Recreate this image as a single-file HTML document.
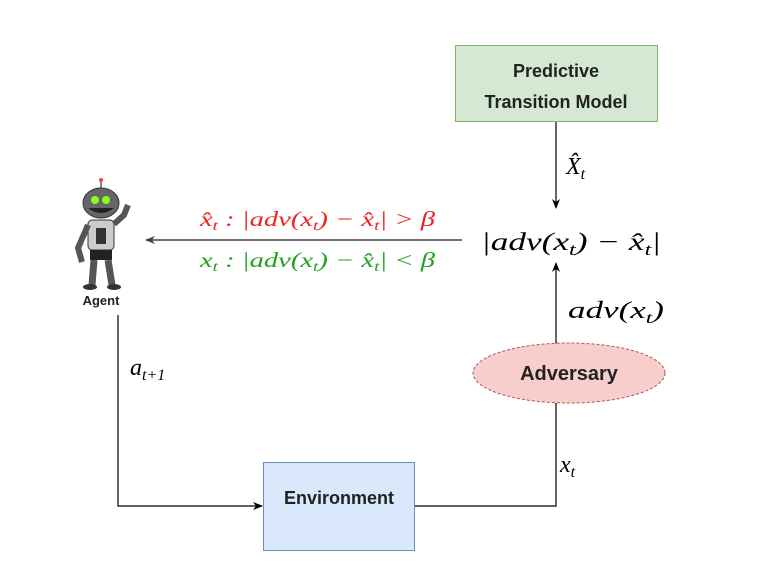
<!DOCTYPE html>
<html><head><meta charset="utf-8"><style>
body{margin:0;background:#fff;width:776px;height:582px;overflow:hidden}
svg{display:block}
.m{font-family:"Liberation Serif",serif;font-style:italic}
.b{font-family:"Liberation Sans",sans-serif;font-weight:bold}
</style></head><body>
<svg width="776" height="582" viewBox="0 0 776 582">
<defs><marker id="ar" markerWidth="10" markerHeight="8" refX="9" refY="4" orient="auto" markerUnits="userSpaceOnUse"><path d="M0,0 L10,4 L0,8 L3,4 Z" fill="#000"/></marker>
<marker id="ag" markerWidth="10" markerHeight="8" refX="9" refY="4" orient="auto" markerUnits="userSpaceOnUse"><path d="M0,0 L10,4 L0,8 L3,4 Z" fill="#444"/></marker></defs>

<g>
<rect x="455.5" y="45.5" width="202" height="76" fill="#d5e8d4" stroke="#82b366"/>
<text x="556" y="77" text-anchor="middle" class="b" font-size="18" fill="#222">Predictive</text>
<text x="556" y="108" text-anchor="middle" class="b" font-size="18" fill="#222">Transition Model</text>
</g>
<line x1="556" y1="122" x2="556" y2="208" stroke="#000" stroke-width="1.2" marker-end="url(#ar)"/>
<text x="566" y="174" class="m" font-size="24">X̂<tspan font-size="16" dy="5">t</tspan></text>

<text x="481" y="250" class="m" font-size="25" textLength="180" lengthAdjust="spacingAndGlyphs">|adv(x<tspan font-size="17" dy="5">t</tspan><tspan dy="-5">) − x̂</tspan><tspan font-size="17" dy="5">t</tspan><tspan dy="-5">|</tspan></text>

<line x1="462" y1="240" x2="146" y2="240" stroke="#444" stroke-width="1.5" marker-end="url(#ag)"/>
<text x="200" y="226" class="m" font-size="21" fill="#ee2222" textLength="235" lengthAdjust="spacingAndGlyphs">x̂<tspan font-size="14" dy="4">t</tspan><tspan dy="-4"> : |adv(x</tspan><tspan font-size="14" dy="4">t</tspan><tspan dy="-4">) − x̂</tspan><tspan font-size="14" dy="4">t</tspan><tspan dy="-4">| &gt; β</tspan></text>
<text x="200" y="267" class="m" font-size="21" fill="#22a022" textLength="235" lengthAdjust="spacingAndGlyphs">x<tspan font-size="14" dy="4">t</tspan><tspan dy="-4"> : |adv(x</tspan><tspan font-size="14" dy="4">t</tspan><tspan dy="-4">) − x̂</tspan><tspan font-size="14" dy="4">t</tspan><tspan dy="-4">| &lt; β</tspan></text>

<line x1="556" y1="344" x2="556" y2="263" stroke="#000" stroke-width="1.2" marker-end="url(#ar)"/>
<text x="568" y="318" class="m" font-size="24" textLength="96" lengthAdjust="spacingAndGlyphs">adv(x<tspan font-size="16" dy="5">t</tspan><tspan dy="-5">)</tspan></text>

<g>
<ellipse cx="569" cy="373" rx="96" ry="30" fill="#f8cecc" stroke="#b85450" stroke-dasharray="3,2"/>
<text x="569" y="380" text-anchor="middle" class="b" font-size="20" fill="#222">Adversary</text>
</g>
<polyline points="556,403 556,506 415,506" fill="none" stroke="#000" stroke-width="1.2"/>
<text x="560" y="472" class="m" font-size="24">x<tspan font-size="16" dy="5">t</tspan></text>

<g>
<rect x="263.5" y="462.5" width="151" height="88" fill="#dae8fc" stroke="#6c8ebf"/>
<text x="339" y="504" text-anchor="middle" class="b" font-size="18" fill="#222">Environment</text>
</g>
<polyline points="118,315 118,506 262,506" fill="none" stroke="#000" stroke-width="1.2" marker-end="url(#ar)"/>
<text x="130" y="375" class="m" font-size="24">a<tspan font-size="16" dy="5">t+1</tspan></text>

<g>
<line x1="101" y1="180" x2="101" y2="188" stroke="#888" stroke-width="2"/>
<circle cx="101" cy="180" r="2" fill="#e44"/>
<ellipse cx="101" cy="203" rx="18" ry="15" fill="#666" stroke="#333"/>
<ellipse cx="95" cy="200" rx="4" ry="4" fill="#8f2"/>
<ellipse cx="106" cy="200" rx="4" ry="4" fill="#8f2"/>
<path d="M88,208 Q101,218 114,208" fill="#222"/>
<rect x="88" y="220" width="26" height="30" rx="4" fill="#ccc" stroke="#333"/>
<rect x="96" y="228" width="10" height="16" fill="#333"/>
<path d="M88,225 L78,248 L82,262" fill="none" stroke="#555" stroke-width="6"/>
<path d="M114,224 L124,215 L128,205" fill="none" stroke="#555" stroke-width="6"/>
<rect x="90" y="250" width="22" height="10" fill="#222"/>
<path d="M94,260 L92,285 M108,260 L112,285" stroke="#555" stroke-width="7"/>
<ellipse cx="90" cy="287" rx="7" ry="3" fill="#333"/>
<ellipse cx="114" cy="287" rx="7" ry="3" fill="#333"/>
<text x="101" y="305" text-anchor="middle" class="b" font-size="13" fill="#222">Agent</text>
</g>
</svg>
</body></html>
